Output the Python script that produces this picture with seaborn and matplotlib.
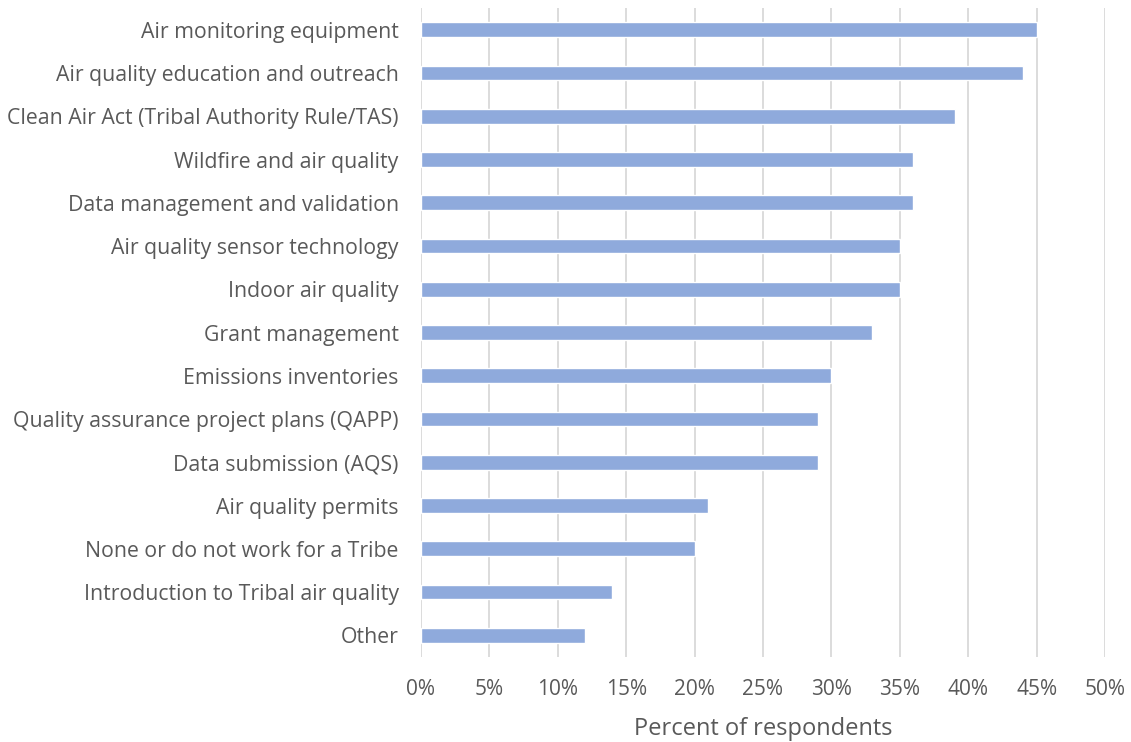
import pandas as pd
import matplotlib.pyplot as plt
import seaborn as sns
from matplotlib.ticker import PercentFormatter

# -- data --
topics = [
    'Air monitoring equipment',
    'Air quality education and outreach',
    'Clean Air Act (Tribal Authority Rule/TAS)',
    'Wildfire and air quality',
    'Data management and validation',
    'Air quality sensor technology',
    'Indoor air quality',
    'Grant management',
    'Emissions inventories',
    'Quality assurance project plans (QAPP)',
    'Data submission (AQS)',
    'Air quality permits',
    'None or do not work for a Tribe',
    'Introduction to Tribal air quality',
    'Other',
]
percents = [45, 44, 39, 36, 36, 35, 35, 33, 30, 29, 29, 21, 20, 14, 12]
x_ticks = [0, 5, 10, 15, 20, 25, 30, 35, 40, 45, 50]

df = pd.DataFrame({'topic': topics, 'percent': percents})

sns.set_style('white')
plt.rcParams['font.family'] = ['Open Sans', 'DejaVu Sans']
text_col = '#595959'

fig = plt.figure(figsize=(11.31, 7.42), dpi=100)
ax = fig.add_axes([0.3722, 0.1146, 0.6048, 0.8744])

sns.barplot(data=df, x='percent', y='topic', orient='h', color='#8FAADC',
            saturation=1, width=0.34, ax=ax)

ax.set_xlim(0, 50)
ax.set_ylim(len(topics) - 0.5, -0.5)
ax.set_xticks(x_ticks)
ax.xaxis.set_major_formatter(PercentFormatter(decimals=0))
ax.grid(axis='x', color='#D9D9D9', linewidth=1.3)
ax.set_axisbelow(True)
for s in ax.spines.values():
    s.set_visible(False)

ax.tick_params(axis='y', length=0, pad=16, labelsize=15.3, labelcolor=text_col)
ax.tick_params(axis='x', length=0, pad=16, labelsize=15, labelcolor=text_col)
ax.set_ylabel('')
ax.set_xlabel('Percent of respondents', fontsize=17, color=text_col, labelpad=12)

fig.savefig('out.png', dpi=100)
